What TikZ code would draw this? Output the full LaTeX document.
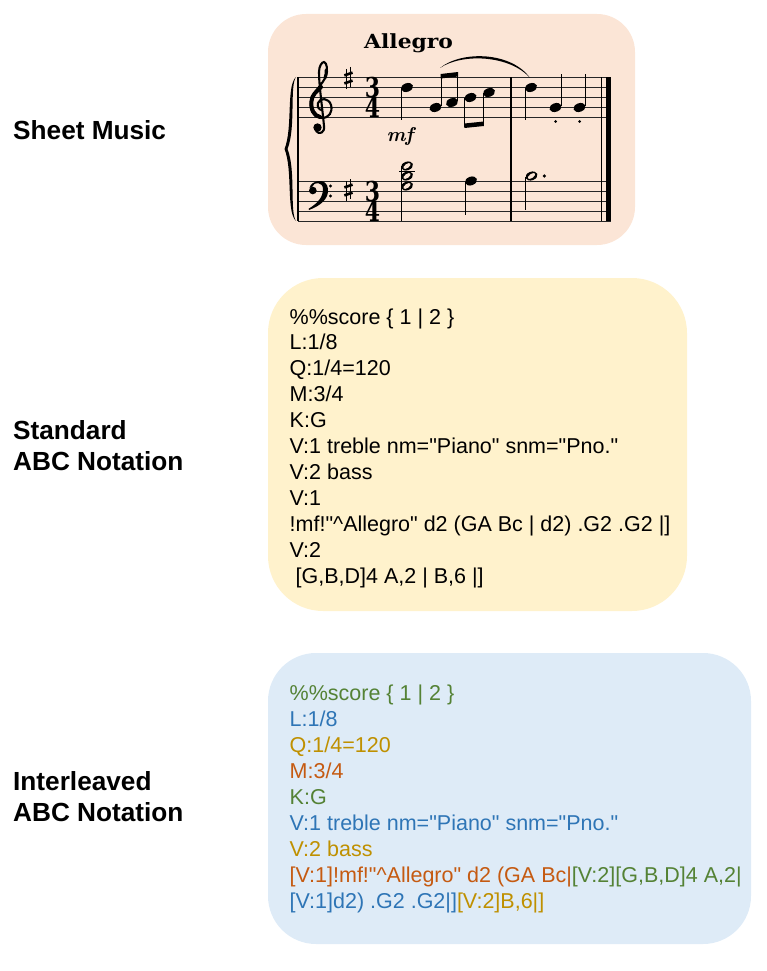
\documentclass[tikz,border=0pt]{standalone}
\usepackage{fontspec}
\usepackage{graphicx}
\newfontfamily\labelfont{Liberation Sans}
\newfontfamily\codefont{Liberation Sans}
\newfontfamily\tempofont{DejaVu Serif}
\definecolor{peachfill}{HTML}{FBE5D6}
\definecolor{goldfill}{HTML}{FFF2CC}
\definecolor{bluefill}{HTML}{DEEBF7}
\definecolor{cgreen}{HTML}{548235}
\definecolor{cblue}{HTML}{2E75B6}
\definecolor{cgold}{HTML}{BF9000}
\definecolor{corange}{HTML}{C55A11}
\newcommand\nfull[2]{\fill[rotate around={20:(#1,#2)}] (#1,#2) ellipse [x radius=6.2pt, y radius=4.3pt];}
\newcommand\nhalf[2]{\fill[rotate around={20:(#1,#2)}] (#1,#2) ellipse [x radius=6.2pt, y radius=4.3pt];
  \fill[peachfill, rotate around={35:(#1,#2)}] (#1,#2) ellipse [x radius=4.2pt, y radius=2.0pt];}
\begin{document}
\begin{tikzpicture}[x=1pt,y=-1pt,
  lbl/.style={anchor=base west, inner sep=0pt, font=\labelfont\bfseries\fontsize{26.2}{26.2}\selectfont},
  code/.style={anchor=base west, inner sep=0pt, font=\codefont\fontsize{21.5}{21.5}\selectfont},
  staffline/.style={line width=0.8pt, black!85},
  stem/.style={line width=1.1pt},
  bar/.style={line width=1.3pt},
  timesig/.style={anchor=base, inner sep=0pt, font=\tempofont\bfseries\fontsize{27.4}{27.4}\selectfont},
]
\useasboundingbox (0,0) rectangle (766,971);
% boxes
\fill[peachfill, rounded corners=38pt] (268,14) rectangle (635,245);
\fill[goldfill, rounded corners=55pt] (268,278) rectangle (687,611);
\fill[bluefill, rounded corners=48pt] (268,653) rectangle (751,944);
% labels
\node[lbl] (l1) at (13,139.3) {Sheet Music};
\node[lbl] (l2a) at (13,439) {Standard};
\node[lbl] (l2b) at (13,470) {ABC Notation};
\node[lbl] (l3a) at (13,790.7) {Interleaved};
\node[lbl] (l3b) at (13,821.7) {ABC Notation};
% standard ABC
\node[code] (s0) at (289.5,324) {\%\%score \{ 1 | 2 \}};
\node[code] (s1) at (289.5,349.9) {L:1/8};
\node[code] (s2) at (289.5,375.9) {Q:1/4=120};
\node[code] (s3) at (289.5,401.8) {M:3/4};
\node[code] (s4) at (289.5,427.7) {K:G};
\node[code] (s5) at (289.5,453.7) {V:1 treble nm="Piano" snm="Pno."};
\node[code] (s6) at (289.5,479.6) {V:2 bass};
\node[code] (s7) at (289.5,505.5) {V:1};
\node[code] (s8) at (289.5,531.4) {!mf!"\textasciicircum Allegro" d2 (GA Bc | d2) .G2 .G2 |]};
\node[code] (s9) at (289.5,557.4) {V:2};
\node[code] (s10) at (289.5,583.3) {\ [G,B,D]4 A,2 | B,6 |]};
% interleaved ABC
\node[code, text=cgreen] (i0) at (289.5,700.7) {\%\%score \{ 1 | 2 \}};
\node[code, text=cblue] (i1) at (289.5,726.65) {L:1/8};
\node[code, text=cgold] (i2) at (289.5,752.6) {Q:1/4=120};
\node[code, text=corange] (i3) at (289.5,778.55) {M:3/4};
\node[code, text=cgreen] (i4) at (289.5,804.5) {K:G};
\node[code, text=cblue] (i5) at (289.5,830.45) {V:1 treble nm="Piano" snm="Pno."};
\node[code, text=cgold] (i6) at (289.5,856.4) {V:2 bass};
\node[code] (i7) at (289.5,882.35) {\textcolor{corange}{[V:1]!mf!"\textasciicircum Allegro" d2 (GA Bc|}\textcolor{cgreen}{[V:2][G,B,D]4 A,2|}};
\node[code] (i8) at (289.5,908.3) {\textcolor{cblue}{[V:1]d2) .G2 .G2|]}\textcolor{cgold}{[V:2]B,6|]}};
% ---------- sheet music ----------
% staff lines
\foreach \yy in {77.5,87.5,97.5,107.5,117.5,181,191,201,211,221}
  \draw[staffline] (298,\yy) -- (611,\yy);
% bar lines
\draw[bar] (298,77.5) -- (298,221);
\draw[bar] (511,77.5) -- (511,221);
\draw[bar] (601.8,77.5) -- (601.8,221);
\fill (606,77.1) rectangle (611,221.4);
% brace
\fill (296,77) .. controls (286,86) and (293,128) .. (284.5,149) .. controls (293,170) and (286,212) .. (296,221)
  .. controls (289.5,212) and (296,170) .. (287.5,149) .. controls (296,128) and (289.5,86) .. cycle;
% treble clef
\draw[line width=2.1pt, line cap=round]
  (316,131) .. controls (319,135) and (325,133) .. (324,126)
  .. controls (322,105) and (319,85) .. (319,72)
  .. controls (319,66) and (322,62) .. (324,62)
  .. controls (327,63) and (328,70) .. (326,76)
  .. controls (323,84) and (313,92) .. (311,101)
  .. controls (309,111) and (315,118) .. (322,118)
  .. controls (329,118) and (333,112) .. (331,105)
  .. controls (329,98) and (320,97) .. (318,103)
  .. controls (317,107) and (319,110) .. (322,110);
\draw[line width=4pt, line cap=round] (321,87) .. controls (316,92) and (312,95) .. (311.5,101)
  .. controls (310.5,109) and (314,116) .. (320,117);
\draw[line width=3pt, line cap=round] (326,70) .. controls (326.5,73) and (326,75) .. (325,78);
\fill (317.5,127.5) circle (4.2pt);
% bass clef
\fill (309.5,188) .. controls (311,180) and (327,177) .. (328,189) .. controls (329,199) and (320,206) .. (309,210)
  -- (308.6,208.8) .. controls (318,203) and (323,197) .. (323,189) .. controls (323,182) and (314,181) .. (312,187) -- cycle;
\fill (312.8,190.5) circle (3.8pt);
\fill (330.5,186) circle (1.6pt);
\fill (330.5,196) circle (1.6pt);
% sharps
\foreach \cy in {78,190} {
  \draw[line width=1pt] (346.3,\cy-9) -- (346.3,\cy+11);
  \draw[line width=1pt] (350.6,\cy-11) -- (350.6,\cy+9);
  \draw[line width=2.6pt] (344.3,\cy-2.6) -- (352.6,\cy-5.4);
  \draw[line width=2.6pt] (344.3,\cy+5.4) -- (352.6,\cy+2.6);
}
% time signatures
\node[timesig] (t1) at (372.5,117.5) {\rlap{\raisebox{20pt}{\scalebox{0.8}[1]{3}}}\scalebox{0.8}[1]{4}};
\node[timesig] (t2) at (372.5,221) {\rlap{\raisebox{20pt}{\scalebox{0.8}[1]{3}}}\scalebox{0.8}[1]{4}};
% tempo and dynamics
\node[anchor=base west, inner sep=0pt, font=\tempofont\bfseries\fontsize{19.5}{19.5}\selectfont] (tempo) at (364,49) {\scalebox{1.12}[1]{Allegro}};
\node[anchor=base, inner sep=0pt, font=\bfseries\itshape\fontsize{20}{20}\selectfont] (dyn) at (400,141) {mf};
% measure 1 treble
\nfull{407}{87.5}
\draw[stem] (401.4,88.5) -- (401.4,120);
\nfull{435.5}{107.5}
\draw[stem] (441.1,106.5) -- (441.1,75);
\nfull{452}{102.5}
\draw[stem] (457.6,101.5) -- (457.6,73);
\fill (440.6,74) -- (458.1,72) -- (458.1,76.5) -- (440.6,78.5) -- cycle;
\nfull{470.5}{97.5}
\draw[stem] (464.9,98.5) -- (464.9,127);
\nfull{489}{92.5}
\draw[stem] (483.4,93.5) -- (483.4,125);
\fill (464.4,123.5) -- (483.9,121.5) -- (483.9,126) -- (464.4,128) -- cycle;
% slur
\fill (440,68) .. controls (462,50) and (512,52) .. (530,78) .. controls (510,55) and (462,53) .. cycle;
% measure 2 treble
\nfull{531}{87.5}
\draw[stem] (525.4,88.5) -- (525.4,120);
\nfull{555.5}{107.5}
\draw[stem] (561.1,106.5) -- (561.1,74);
\fill (555.5,121.5) circle (1.5pt);
\nfull{579.5}{107.5}
\draw[stem] (585.1,106.5) -- (585.1,74);
\fill (579.5,121.5) circle (1.5pt);
% bass measure 1
\draw[line width=1pt] (399,171) -- (415,171);
\nhalf{407}{166}
\nhalf{407}{176}
\nhalf{407}{186}
\draw[stem] (401.4,166) -- (401.4,221);
\nfull{471}{181}
\draw[stem] (465.4,182) -- (465.4,215);
% bass measure 2
\nhalf{531.5}{176}
\draw[stem] (525.9,177) -- (525.9,210);
\fill (544.3,176) circle (1.8pt);
\end{tikzpicture}
\end{document}
